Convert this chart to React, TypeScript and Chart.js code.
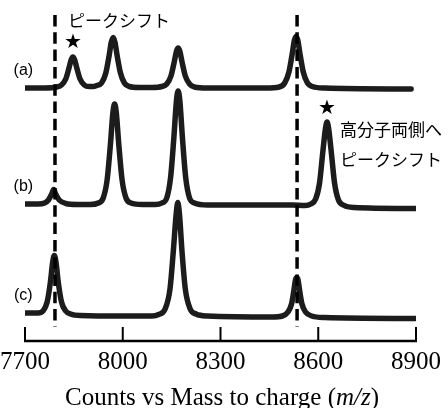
import { useEffect, useRef } from "react";
import { Chart, registerables } from "chart.js";

Chart.register(...registerables);
Chart.defaults.font.family = '"Liberation Serif", "Times New Roman", serif';

// ---- data ----
const xTicks = [7700, 8000, 8300, 8600, 8900];
const traceLabels = ["(a)", "(b)", "(c)"];
const traceOffsets = [252, 135, 26];

// (a) m/z, relative counts
const spectrumA: [number, number][] = [
  [7700, 0], [7760, 0], [7797, 1], [7812, 3], [7825, 9], [7835, 20], [7842, 28.5], [7847, 31],
  [7852, 28.5], [7859, 20], [7869, 9], [7882, 3], [7897, 1.5], [7910, 1.5], [7920, 2.5], [7935, 5],
  [7948, 15], [7958, 32], [7965, 46], [7971, 50.5], [7976, 46], [7983, 32], [7993, 15], [8005, 5],
  [8020, 1.5], [8050, 0.5], [8090, 0.5], [8120, 1.5], [8135, 4], [8148, 12], [8158, 26], [8165, 37],
  [8170, 40], [8175, 37], [8182, 26], [8192, 12], [8205, 4], [8220, 1], [8260, 0], [8440, 0],
  [8480, 1], [8497, 5], [8510, 16], [8520, 34], [8527, 48], [8532, 51.5], [8537, 48], [8544, 34],
  [8554, 16], [8567, 5], [8582, 1.5], [8620, 0], [8885, -1],
];

// (b)
const spectrumB: [number, number][] = [
  [7700, 1], [7740, 1], [7760, 2], [7772, 5], [7782, 11], [7788, 15.5], [7794, 11], [7805, 5],
  [7825, 1.5], [7860, 0.5], [7900, 0.5], [7925, 2], [7940, 7], [7952, 25], [7962, 60], [7970, 93],
  [7975, 101], [7980, 93], [7988, 60], [7998, 25], [8010, 7], [8025, 2], [8060, 0.5], [8100, 0.5],
  [8120, 2], [8135, 7], [8147, 28], [8157, 68], [8165, 105], [8170, 114], [8175, 105], [8183, 68],
  [8193, 28], [8205, 7], [8220, 2], [8260, 0], [8520, 0], [8560, -0.5], [8577, 1], [8592, 6],
  [8604, 22], [8614, 53], [8622, 76], [8627, 83], [8632, 76], [8640, 53], [8650, 22], [8662, 5],
  [8677, 0], [8710, -2.5], [8900, -3.5],
];

// (c)
const spectrumC: [number, number][] = [
  [7700, 1], [7740, 1], [7755, 3], [7768, 12], [7778, 32], [7785, 52], [7790, 58.5], [7795, 52],
  [7802, 32], [7812, 12], [7825, 3], [7840, 0], [7870, -1.5], [8000, -2], [8090, -2], [8110, -0.5],
  [8130, 5], [8145, 25], [8155, 62], [8164, 100], [8169, 111.5], [8174, 100], [8182, 62], [8192, 25],
  [8207, 5], [8225, 0], [8260, -2], [8460, -3], [8490, -2], [8507, 2], [8518, 10], [8525, 23],
  [8530, 34], [8534, 36.5], [8538, 34], [8543, 23], [8550, 10], [8561, 2], [8580, -2], [8620, -3.5],
  [8900, -4.5],
];

const spectra = [spectrumA, spectrumB, spectrumC];

// annotations (in axis units)
const markerMass = [7792, 8535];
const markerSpan = [325, 13];
const starMass = [7847, 8627];
const starLevel = [297, 231];
const labelMass = 7695;
const labelLevel = [269.5, 153.5, 44.5];
const noteTexts = ["ピークシフト", "高分子両側へ", "ピークシフト"];
const noteMass = [7832, 8667, 8667];
const noteLevel = [319.5, 210.5, 180.5];
const titleParts = ["Counts vs Mass to charge (", "m/z", ")"];

const overlay = {
  id: "overlay",
  afterDatasetsDraw(chart: any) {
    const { ctx, chartArea } = chart;
    const x = chart.scales.x;
    const y = chart.scales.y;
    ctx.save();

    // dashed markers
    ctx.strokeStyle = "#000";
    ctx.lineWidth = 3.5;
    ctx.setLineDash([11.5, 5.8]);
    for (const m of markerMass) {
      const px = x.getPixelForValue(m);
      ctx.beginPath();
      ctx.moveTo(px, y.getPixelForValue(markerSpan[0]));
      ctx.lineTo(px, y.getPixelForValue(markerSpan[1]));
      ctx.stroke();
    }
    ctx.setLineDash([]);

    // axis line with upward ticks
    const by = chartArea.bottom + 1;
    ctx.lineWidth = 2.6;
    ctx.beginPath();
    ctx.moveTo(x.getPixelForValue(xTicks[0]) - 1, by);
    ctx.lineTo(x.getPixelForValue(xTicks[xTicks.length - 1]) + 1, by);
    ctx.stroke();
    ctx.lineWidth = 2;
    for (const t of x.ticks) {
      const px = x.getPixelForValue(t.value);
      ctx.beginPath();
      ctx.moveTo(px, by);
      ctx.lineTo(px, by - 14);
      ctx.stroke();
    }

    ctx.fillStyle = "#000";
    // trace labels
    ctx.font = '16px "Liberation Sans", Arial, sans-serif';
    ctx.textAlign = "center";
    ctx.textBaseline = "middle";
    traceLabels.forEach((lab, i) => {
      ctx.fillText(lab, x.getPixelForValue(labelMass), y.getPixelForValue(labelLevel[i]));
    });

    // stars
    ctx.font = '20px "DejaVu Sans", sans-serif';
    starMass.forEach((m, i) => {
      ctx.fillText("★", x.getPixelForValue(m), y.getPixelForValue(starLevel[i]));
    });

    // notes
    ctx.font = '17px "Noto Sans CJK JP", sans-serif';
    ctx.textAlign = "left";
    noteTexts.forEach((t, i) => {
      ctx.fillText(t, x.getPixelForValue(noteMass[i]), y.getPixelForValue(noteLevel[i]));
    });

    // axis title with italic m/z
    const normal = '25px "Liberation Serif", "Times New Roman", serif';
    const italic = 'italic 25px "Liberation Serif", "Times New Roman", serif';
    const fonts = [normal, italic, normal];
    let total = 0;
    const widths = titleParts.map((p, i) => {
      ctx.font = fonts[i];
      const w = ctx.measureText(p).width;
      total += w;
      return w;
    });
    let cx = chart.width / 2 - total / 2 - 2;
    ctx.textBaseline = "alphabetic";
    titleParts.forEach((p, i) => {
      ctx.font = fonts[i];
      ctx.fillText(p, cx, 405);
      cx += widths[i];
    });
    ctx.restore();
  },
};

export default function App() {
  const ref = useRef<HTMLCanvasElement | null>(null);
  useEffect(() => {
    if (!ref.current) return;
    const chart = new Chart(ref.current, {
      type: "line",
      data: {
        datasets: spectra.map((s, i) => ({
          label: traceLabels[i],
          data: s.map(([m, c]) => ({ x: m, y: c + traceOffsets[i] })),
          borderColor: "#1c1c1c",
          borderWidth: 5.5,
          pointRadius: 0,
          cubicInterpolationMode: "monotone" as const,
          borderCapStyle: "round" as const,
          borderJoinStyle: "round" as const,
          fill: false,
        })),
      },
      options: {
        animation: false,
        responsive: false,
        maintainAspectRatio: false,
        events: [],
        layout: { padding: { left: 25, right: 32, top: 0, bottom: 30.5 } },
        plugins: { legend: { display: false }, tooltip: { enabled: false }, title: { display: false } },
        scales: {
          x: {
            type: "linear",
            min: 7700,
            max: 8900,
            afterBuildTicks: (axis: any) => {
              axis.ticks = xTicks.map((v) => ({ value: v }));
            },
            grid: { display: false, drawTicks: true, tickLength: 7.5 },
            border: { display: false },
            ticks: {
              padding: 0,
              color: "#000",
              maxRotation: 0,
              autoSkip: false,
              font: { family: '"Liberation Serif", "Times New Roman", serif', size: 25 },
              callback: (v: any) => String(v),
            },
          },
          y: { display: false, min: 0, max: 340 },
        },
      },
      plugins: [overlay],
    });
    return () => chart.destroy();
  }, []);
  return (
    <div style={{ position: "fixed", left: 0, top: 0, width: 448, height: 408, background: "#fff" }}>
      <canvas ref={ref} width={448} height={408} style={{ display: "block", width: 448, height: 408 }} />
    </div>
  );
}
